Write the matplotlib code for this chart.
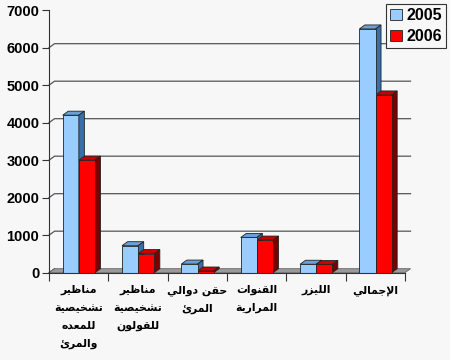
import matplotlib
matplotlib.use("Agg")
import matplotlib.pyplot as plt
from matplotlib.patches import Polygon, Patch

categories = [
    "مناظير\nتشخيصية\nللمعده\nوالمرئ",
    "مناظير\nتشخيصية\nللقولون",
    "حقن دوالي\nالمرئ",
    "القنوات\nالمرارية",
    "الليزر",
    "الإجمالي",
]
series_names = ["2005", "2006"]
values_2005 = [4200, 720, 230, 940, 225, 6500]
values_2006 = [3000, 510, 45, 870, 220, 4740]
yticks = [0, 1000, 2000, 3000, 4000, 5000, 6000, 7000]

# --- minimal arabic shaping (matplotlib has no complex text layout) ---
# iso, final, initial, medial
FORMS = {
    "ا": (0xFE8D, 0xFE8E, None, None), "إ": (0xFE87, 0xFE88, None, None),
    "ت": (0xFE95, 0xFE96, 0xFE97, 0xFE98), "ة": (0xFE93, 0xFE94, None, None),
    "ج": (0xFE9D, 0xFE9E, 0xFE9F, 0xFEA0), "ح": (0xFEA1, 0xFEA2, 0xFEA3, 0xFEA4),
    "خ": (0xFEA5, 0xFEA6, 0xFEA7, 0xFEA8), "د": (0xFEA9, 0xFEAA, None, None),
    "ر": (0xFEAD, 0xFEAE, None, None), "ز": (0xFEAF, 0xFEB0, None, None),
    "ش": (0xFEB5, 0xFEB6, 0xFEB7, 0xFEB8), "ص": (0xFEB9, 0xFEBA, 0xFEBB, 0xFEBC),
    "ظ": (0xFEC5, 0xFEC6, 0xFEC7, 0xFEC8), "ع": (0xFEC9, 0xFECA, 0xFECB, 0xFECC),
    "ق": (0xFED5, 0xFED6, 0xFED7, 0xFED8), "ل": (0xFEDD, 0xFEDE, 0xFEDF, 0xFEE0),
    "م": (0xFEE1, 0xFEE2, 0xFEE3, 0xFEE4), "ن": (0xFEE5, 0xFEE6, 0xFEE7, 0xFEE8),
    "ه": (0xFEE9, 0xFEEA, 0xFEEB, 0xFEEC), "و": (0xFEED, 0xFEEE, None, None),
    "ي": (0xFEF1, 0xFEF2, 0xFEF3, 0xFEF4), "ئ": (0xFE89, 0xFE8A, 0xFE8B, 0xFE8C),
}
LAM_ALEF = {"ا": (0xFEFB, 0xFEFC), "إ": (0xFEF9, 0xFEFA)}


def shape_line(s):
    out = []
    i = 0
    while i < len(s):
        c = s[i]
        if c not in FORMS:
            out.append(c)
            i += 1
            continue
        prev = s[i - 1] if i > 0 else ""
        prev_joins = prev in FORMS and FORMS[prev][2] is not None and bool(out) and out[-1] != " "
        if c == "ل" and i + 1 < len(s) and s[i + 1] in LAM_ALEF:
            iso, fin = LAM_ALEF[s[i + 1]]
            out.append(chr(fin if prev_joins else iso))
            i += 2
            continue
        nxt = s[i + 1] if i + 1 < len(s) else ""
        next_joins = FORMS[c][2] is not None and nxt in FORMS
        f = FORMS[c]
        if prev_joins and next_joins:
            out.append(chr(f[3]))
        elif prev_joins:
            out.append(chr(f[1]))
        elif next_joins:
            out.append(chr(f[2]))
        else:
            out.append(chr(f[0]))
        i += 1
    return "".join(reversed(out))


def shape(s):
    return "\n".join(shape_line(l) for l in s.split("\n"))


bg = "#f7f7f7"
fig = plt.figure(figsize=(4.5, 3.6), dpi=100, facecolor=bg)
ax = fig.add_axes([49 / 450, 1 - 272.7 / 360, 356 / 450, 262.5 / 360])
ax.set_facecolor(bg)
ax.patch.set_alpha(0)
ax.set_xlim(0, 6)
ax.set_ylim(0, 7000)

dx, dy = 0.093, 107  # 3d depth in data units
bw = 0.272
x = list(range(len(categories)))

# back wall gridlines
for t in yticks[1:-1]:
    ax.plot([0, dx, 6 + dx], [t, t + dy, t + dy], color="#555555", lw=0.9,
            clip_on=False, zorder=1)
ax.plot([0, dx], [0, dy], color="#555555", lw=0.9, clip_on=False, zorder=1)
# floor
ax.add_patch(Polygon([(0, 0), (6, 0), (6 + dx, dy), (dx, dy)], closed=True,
                     fc="#9a9a9a", ec="#666666", lw=0.6, clip_on=False, zorder=1.5))


def bars3d(xs, hs, front, top, side):
    rects = ax.bar(xs, hs, width=bw, align="edge", color=front,
                   edgecolor="#222222", linewidth=0.6, zorder=3, clip_on=False)
    for r in rects:
        x0, w, h = r.get_x(), r.get_width(), r.get_height()
        ax.add_patch(Polygon([(x0, h), (x0 + dx, h + dy), (x0 + w + dx, h + dy), (x0 + w, h)],
                             closed=True, fc=top, ec="#222222", lw=0.6,
                             zorder=r.get_zorder(), clip_on=False))
        ax.add_patch(Polygon([(x0 + w, 0), (x0 + w + dx, dy), (x0 + w + dx, h + dy), (x0 + w, h)],
                             closed=True, fc=side, ec="#222222", lw=0.6,
                             zorder=r.get_zorder(), clip_on=False))
    return rects


for i in x:
    b1 = bars3d([i + 0.231], [values_2005[i]], "#99ccff", "#6a9fd8", "#3b6ea8")
    b2 = bars3d([i + 0.231 + bw], [values_2006[i]], "#ff0000", "#cc0000", "#7a0000")
    for r in list(b1) + list(b2):
        r.set_zorder(3 + i * 2 + (1 if r in b2 else 0))

for sp in ["top", "right"]:
    ax.spines[sp].set_visible(False)
ax.spines["left"].set_color("#333333")
ax.spines["bottom"].set_color("#333333")
ax.spines["left"].set_zorder(20)
ax.spines["bottom"].set_zorder(20)

ax.set_yticks(yticks)
ax.set_yticklabels([str(t) for t in yticks], fontfamily="Liberation Sans",
                   fontweight="bold", fontsize=10.5)
ax.tick_params(axis="y", direction="out", length=5, color="#333333", pad=2)

ax.set_xticks(range(7))
ax.set_xticklabels([])
ax.tick_params(axis="x", which="major", direction="out", length=6, color="#333333")
ax.set_xticks([i + 0.5 for i in x], minor=True)
ax.set_xticklabels([shape(c) for c in categories], minor=True,
                   fontfamily=["DejaVu Sans"], fontweight="bold", fontsize=7.8,
                   linespacing=1.95, va="top")
ax.tick_params(axis="x", which="minor", length=0, pad=9)

handles = [Patch(facecolor="#99ccff", edgecolor="#222222", lw=0.6),
           Patch(facecolor="#ff0000", edgecolor="#222222", lw=0.6)]
leg = ax.legend(handles, series_names, loc="upper right",
                bbox_to_anchor=(446 / 450, 1 - 4 / 360), bbox_transform=fig.transFigure,
                prop={"family": "Liberation Sans", "weight": "bold", "size": 11.5},
                handlelength=0.7, handleheight=0.7, handletextpad=0.3,
                borderpad=0.25, labelspacing=0.4, fancybox=False,
                framealpha=1, facecolor=bg, edgecolor="#333333", borderaxespad=0)
leg.get_frame().set_linewidth(0.8)
leg.set_zorder(30)

fig.savefig("out.png", dpi=100, facecolor=bg)
